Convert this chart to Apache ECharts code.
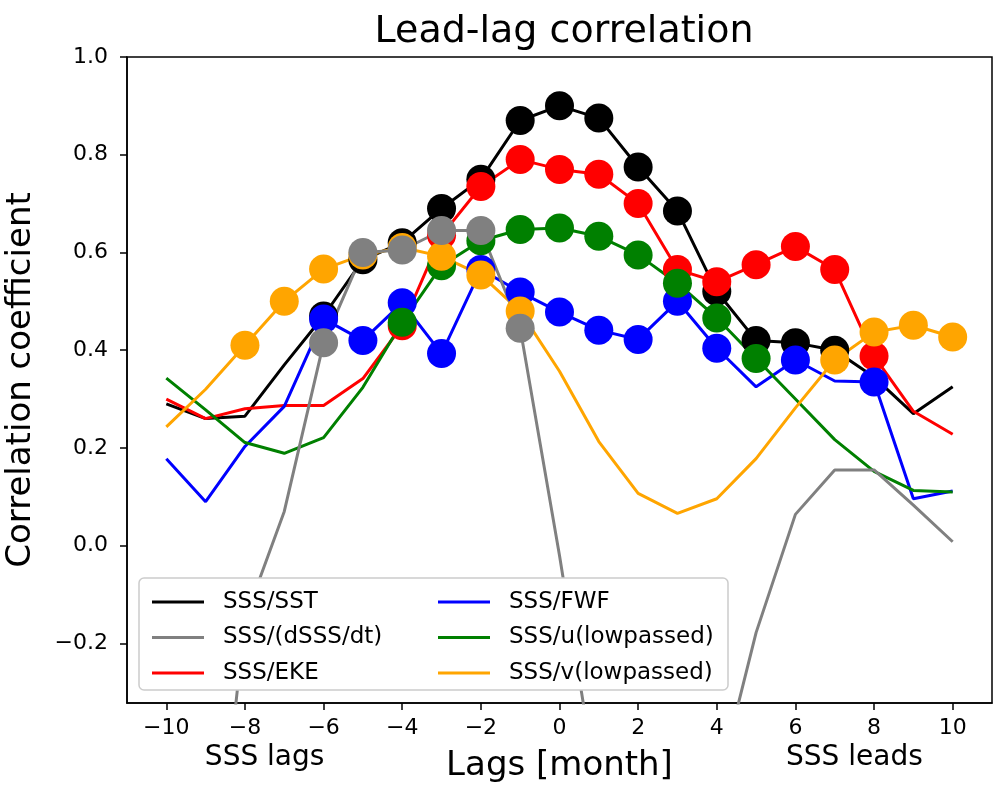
<!DOCTYPE html>
<html>
<head>
<meta charset="utf-8">
<script src="https://cdn.jsdelivr.net/npm/echarts@6/dist/echarts.min.js"></script>
<style>
  html, body { margin: 0; padding: 0; background: #fff; }
  #main { width: 995px; height: 787px; }
</style>
</head>
<body>
<div id="main"></div>
<script>
// lags in months
const lags = [-10, -9, -8, -7, -6, -5, -4, -3, -2, -1, 0, 1, 2, 3, 4, 5, 6, 7, 8, 9, 10];
const xTicks = [-10, -8, -6, -4, -2, 0, 2, 4, 6, 8, 10];
const yTicks = [-0.2, 0, 0.2, 0.4, 0.6, 0.8, 1.0];

// correlation values, one per lag
const sssSst = [0.29, 0.26, 0.265, 0.37, 0.47, 0.585, 0.62, 0.69, 0.75, 0.87, 0.90, 0.875, 0.775, 0.685, 0.52, 0.42, 0.415, 0.40, 0.345, 0.27, 0.325];
const sssDsdt = [-0.75, -0.9, -0.15, 0.07, 0.415, 0.60, 0.605, 0.645, 0.645, 0.445, -0.02, -0.52, -0.75, -0.7, -0.5, -0.178, 0.064, 0.155, 0.155, 0.083, 0.008];
const sssEke = [0.30, 0.26, 0.28, 0.287, 0.287, 0.342, 0.45, 0.635, 0.735, 0.79, 0.77, 0.76, 0.70, 0.565, 0.54, 0.575, 0.612, 0.565, 0.388, 0.275, 0.228];
const sssFwf = [0.178, 0.09, 0.203, 0.285, 0.464, 0.42, 0.497, 0.393, 0.565, 0.519, 0.478, 0.441, 0.422, 0.50, 0.404, 0.325, 0.38, 0.337, 0.335, 0.096, 0.112];
const sssU = [0.343, 0.278, 0.211, 0.189, 0.221, 0.324, 0.457, 0.573, 0.624, 0.647, 0.65, 0.633, 0.595, 0.537, 0.466, 0.383, 0.30, 0.217, 0.152, 0.113, 0.11];
const sssV = [0.243, 0.32, 0.41, 0.50, 0.566, 0.595, 0.61, 0.592, 0.554, 0.48, 0.357, 0.213, 0.107, 0.066, 0.096, 0.178, 0.282, 0.38, 0.437, 0.451, 0.427];

// lags where the correlation is significant (drawn with a dot)
const sstSig = [-6, -5, -4, -3, -2, -1, 0, 1, 2, 3, 4, 5, 6, 7];
const dsdtSig = [-6, -5, -4, -3, -2, -1];
const ekeSig = [-4, -3, -2, -1, 0, 1, 2, 3, 4, 5, 6, 7, 8];
const fwfSig = [-6, -5, -4, -3, -2, -1, 0, 1, 2, 3, 4, 6, 8];
const uSig = [-4, -3, -2, -1, 0, 1, 2, 3, 4, 5];
const vSig = [-8, -7, -6, -5, -4, -3, -2, -1, 7, 8, 9, 10];

const FONT = 'DejaVu Sans';
const minus = (s) => s.replace('-', '\u2212');

function line(name, values, sig, color) {
  return {
    name: name,
    type: 'line',
    color: color,
    data: lags.map((x, i) => ({
      value: [x, values[i]],
      symbol: sig.includes(x) ? 'circle' : 'none'
    })),
    symbolSize: 29,
    showSymbol: true,
    lineStyle: { width: 3, color: color },
    itemStyle: { color: color },
    emphasis: { disabled: true },
    animation: false
  };
}

const chart = echarts.init(document.getElementById('main'));

const legendText = { fontFamily: FONT, fontSize: 23, color: '#000', lineHeight: 24, padding: [0, 0, 0, 14] };

chart.setOption({
  backgroundColor: '#fff',
  animation: false,
  title: {
    text: 'Lead-lag correlation',
    left: 559,
    textAlign: 'center',
    top: 8,
    textStyle: { fontFamily: FONT, fontSize: 38, fontWeight: 'normal', color: '#000' }
  },
  grid: {
    left: 127, right: 3, top: 57, bottom: 84,
    outerBoundsMode: 'none',
    show: true, borderColor: '#000', borderWidth: 1.5
  },
  xAxis: {
    type: 'value',
    min: -11,
    max: 11,
    name: 'Lags [month]',
    nameLocation: 'middle',
    nameGap: 46,
    nameTextStyle: { fontFamily: FONT, fontSize: 34, color: '#000' },
    axisLine: { onZero: false, lineStyle: { color: '#000', width: 1.5 } },
    axisTick: { customValues: xTicks, length: 7, lineStyle: { color: '#000', width: 1.5 } },
    axisLabel: {
      customValues: xTicks, margin: 14,
      fontFamily: FONT, fontSize: 22, color: '#000',
      formatter: (v) => minus(String(v))
    },
    splitLine: { show: false }
  },
  yAxis: {
    type: 'value',
    min: -0.322,
    max: 1.0,
    name: 'Correlation coefficient',
    nameLocation: 'middle',
    nameRotate: 90,
    nameGap: 89,
    nameTextStyle: { fontFamily: FONT, fontSize: 34, color: '#000' },
    axisLine: { onZero: false, lineStyle: { color: '#000', width: 1.5 } },
    axisTick: { customValues: yTicks, length: 7, lineStyle: { color: '#000', width: 1.5 } },
    axisLabel: {
      customValues: yTicks, margin: 19,
      fontFamily: FONT, fontSize: 22, color: '#000',
      formatter: (v) => minus(v.toFixed(1))
    },
    splitLine: { show: false }
  },
  legend: [
    {
      data: ['SSS/SST', 'SSS/(dSSS/dt)', 'SSS/EKE'],
      orient: 'vertical', left: 147, top: 585,
      icon: 'rect', itemWidth: 52, itemHeight: 3, itemGap: 11.5,
      textStyle: legendText, selectedMode: false, z: 10
    },
    {
      data: ['SSS/FWF', 'SSS/u(lowpassed)', 'SSS/v(lowpassed)'],
      orient: 'vertical', left: 433, top: 585,
      icon: 'rect', itemWidth: 52, itemHeight: 3, itemGap: 11.5,
      textStyle: legendText, selectedMode: false, z: 10
    }
  ],
  series: [
    line('SSS/SST', sssSst, sstSig, '#000000'),
    line('SSS/EKE', sssEke, ekeSig, '#ff0000'),
    line('SSS/FWF', sssFwf, fwfSig, '#0000ff'),
    line('SSS/u(lowpassed)', sssU, uSig, '#008000'),
    line('SSS/v(lowpassed)', sssV, vSig, '#ffa500'),
    line('SSS/(dSSS/dt)', sssDsdt, dsdtSig, '#808080')
  ]
});

// legend frame and the lags/leads notes under the axis
const xl = chart.convertToPixel({ xAxisIndex: 0 }, -7.5);
const xr = chart.convertToPixel({ xAxisIndex: 0 }, 7.5);
chart.setOption({
  graphic: [
    {
      type: 'rect', z: 8,
      shape: { x: 139, y: 578, width: 589, height: 112, r: 5 },
      style: { fill: '#ffffff', stroke: '#cccccc', lineWidth: 1.5 }
    },
    {
      type: 'text', z: 10, x: xl, y: 758,
      style: { text: 'SSS lags', font: '28px "DejaVu Sans"', fill: '#000', align: 'center', verticalAlign: 'middle' }
    },
    {
      type: 'text', z: 10, x: xr, y: 758,
      style: { text: 'SSS leads', font: '28px "DejaVu Sans"', fill: '#000', align: 'center', verticalAlign: 'middle' }
    }
  ]
});
</script>
</body>
</html>
